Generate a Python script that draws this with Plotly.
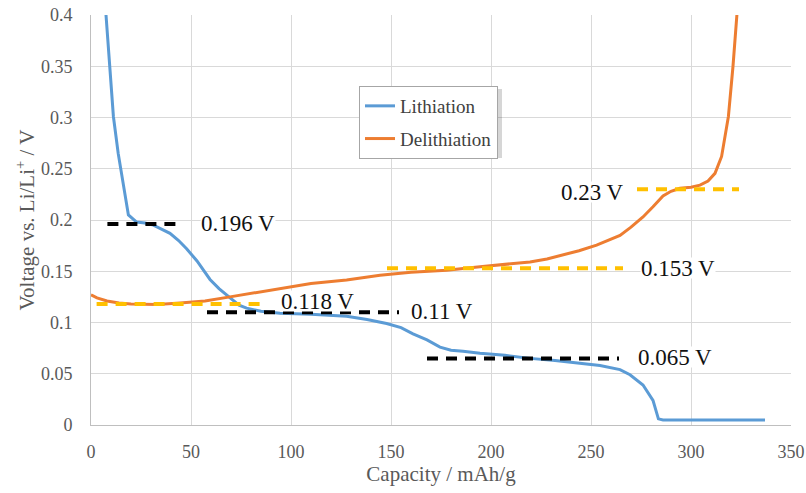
import plotly.graph_objects as go

# Lithiation curve (capacity in mAh/g, voltage in V)
lith_cap = [7.5, 9.3, 11.2, 13.6, 16.2, 18.7, 22.8, 27.0, 31.2, 35.5, 39.5, 43.8, 47.8,
            53.0, 59.5, 64.0, 69.5, 74.0, 77.8, 85.0, 94.5, 110.0, 127.8, 138.0, 147.8,
            155.0, 161.0, 168.0, 174.5, 180.0, 186.0, 194.5, 207.0, 219.5, 232.0, 244.5,
            254.5, 264.5, 269.5, 276.0, 281.0, 283.7, 286.0, 300.0, 315.0, 330.0, 337.0]
lith_v = [0.400, 0.350, 0.301, 0.265, 0.233, 0.205, 0.198, 0.197, 0.195, 0.191, 0.187, 0.180, 0.172,
          0.160, 0.142, 0.133, 0.124, 0.117, 0.114, 0.111, 0.109, 0.108, 0.106, 0.103, 0.099,
          0.095, 0.089, 0.083, 0.076, 0.073, 0.072, 0.070, 0.068, 0.065, 0.063, 0.060,
          0.058, 0.054, 0.049, 0.039, 0.024, 0.006, 0.005, 0.005, 0.005, 0.005, 0.005]

# Delithiation curve
delith_cap = [0, 3, 8, 14, 20, 26, 33, 44.5, 57, 69.5, 82, 94.5, 110, 127.8, 144.5, 160,
              177.8, 194.5, 207, 219.5, 228, 236, 244, 252.8, 258.5, 264.5, 270, 276, 281,
              286, 290, 294.5, 300, 304.5, 308.5, 312, 315.3, 318.7, 321, 322.8, 324.5]
delith_v = [0.127, 0.124, 0.121, 0.119, 0.118, 0.1175, 0.1175, 0.119, 0.121, 0.125, 0.129,
            0.133, 0.138, 0.1415, 0.146, 0.149, 0.151, 0.1545, 0.1565, 0.159, 0.162, 0.166,
            0.170, 0.1755, 0.180, 0.185, 0.193, 0.203, 0.213, 0.2235, 0.228, 0.231, 0.232,
            0.234, 0.238, 0.2455, 0.262, 0.301, 0.350, 0.400, 0.440]

# Plateau markers: voltage level, capacity span, kind
plateau_v = [0.196, 0.118, 0.11, 0.153, 0.23, 0.065]
plateau_start = [8.2, 2.8, 58.0, 148.0, 273.0, 168.0]
plateau_end = [46.2, 87.0, 154.0, 266.0, 324.0, 264.0]
plateau_kind = ["lith", "delith", "lith", "delith", "delith", "lith"]

# Label placement for each plateau (capacity, voltage, anchor)
label_cap = [54.5, 94.5, 159.5, 274.5, 267.0, 273.0]
label_v = [0.197, 0.1205, 0.111, 0.153, 0.227, 0.066]
label_anchor = ["left", "left", "left", "left", "right", "left"]

x_ticks = [0, 50, 100, 150, 200, 250, 300, 350]
y_ticks = [0, 0.05, 0.1, 0.15, 0.2, 0.25, 0.3, 0.35, 0.4]

SERIF = "Liberation Serif"
GRAY = "#595959"
kind_color = {"lith": "#000000", "delith": "#FFC000"}

fig = go.Figure()
fig.add_trace(go.Scatter(x=lith_cap, y=lith_v, mode="lines", name="Lithiation",
                         legendgroup="a", line=dict(color="#5B9BD5", width=3)))
fig.add_trace(go.Scatter(x=delith_cap, y=delith_v, mode="lines", name="Delithiation",
                         legendgroup="b", line=dict(color="#ED7D31", width=3)))

for v, x0, x1, k in zip(plateau_v, plateau_start, plateau_end, plateau_kind):
    fig.add_shape(type="line", xref="x", yref="y", x0=x0, x1=x1, y0=v, y1=v,
                  layer="above", line=dict(color=kind_color[k], width=4, dash="11px,8px"))

for v, lx, ly, anc in zip(plateau_v, label_cap, label_v, label_anchor):
    fig.add_annotation(x=lx, y=ly, xref="x", yref="y", text=f"{v} V", showarrow=False,
                       xanchor=anc, yanchor="middle", bgcolor="white", borderpad=0,
                       height=20, font=dict(family=SERIF, size=23, color="#111111"))

# legend drop shadow
px = lambda p: (p - 91) / 700
py = lambda p: (425 - p) / 410
fig.add_shape(type="rect", xref="paper", yref="paper", x0=px(362), x1=px(502),
              y0=py(158), y1=py(89), line=dict(width=0), fillcolor="rgba(0,0,0,0.16)",
              layer="above")

fig.update_layout(
    width=806, height=493,
    margin=dict(l=91, r=15, t=15, b=68),
    paper_bgcolor="white", plot_bgcolor="white",
    font=dict(family=SERIF, color=GRAY),
    legend=dict(x=px(359), y=py(86), xanchor="left", yanchor="top",
                bgcolor="white", bordercolor="#a6a6a6", borderwidth=1,
                tracegroupgap=5, font=dict(family=SERIF, size=19, color="#404040")),
    xaxis=dict(range=[0, 350], tickvals=x_ticks, showgrid=True, gridcolor="#d9d9d9",
               gridwidth=1, zeroline=False, showline=True, linecolor="#bfbfbf",
               tickfont=dict(size=18, color=GRAY), ticklabelstandoff=10,
               title=dict(text="Capacity / mAh/g", font=dict(size=21, color=GRAY), standoff=2),
               automargin=False),
    yaxis=dict(range=[0, 0.4], tickvals=y_ticks, showgrid=True, gridcolor="#d9d9d9",
               gridwidth=1, zeroline=False, showline=True, linecolor="#bfbfbf",
               tickfont=dict(size=18, color=GRAY), ticklabelstandoff=14,
               title=dict(text="Voltage vs. Li/Li<sup>+</sup> / V",
                          font=dict(size=21, color=GRAY), standoff=0),
               automargin=False),
)

fig.write_html("out.html")
